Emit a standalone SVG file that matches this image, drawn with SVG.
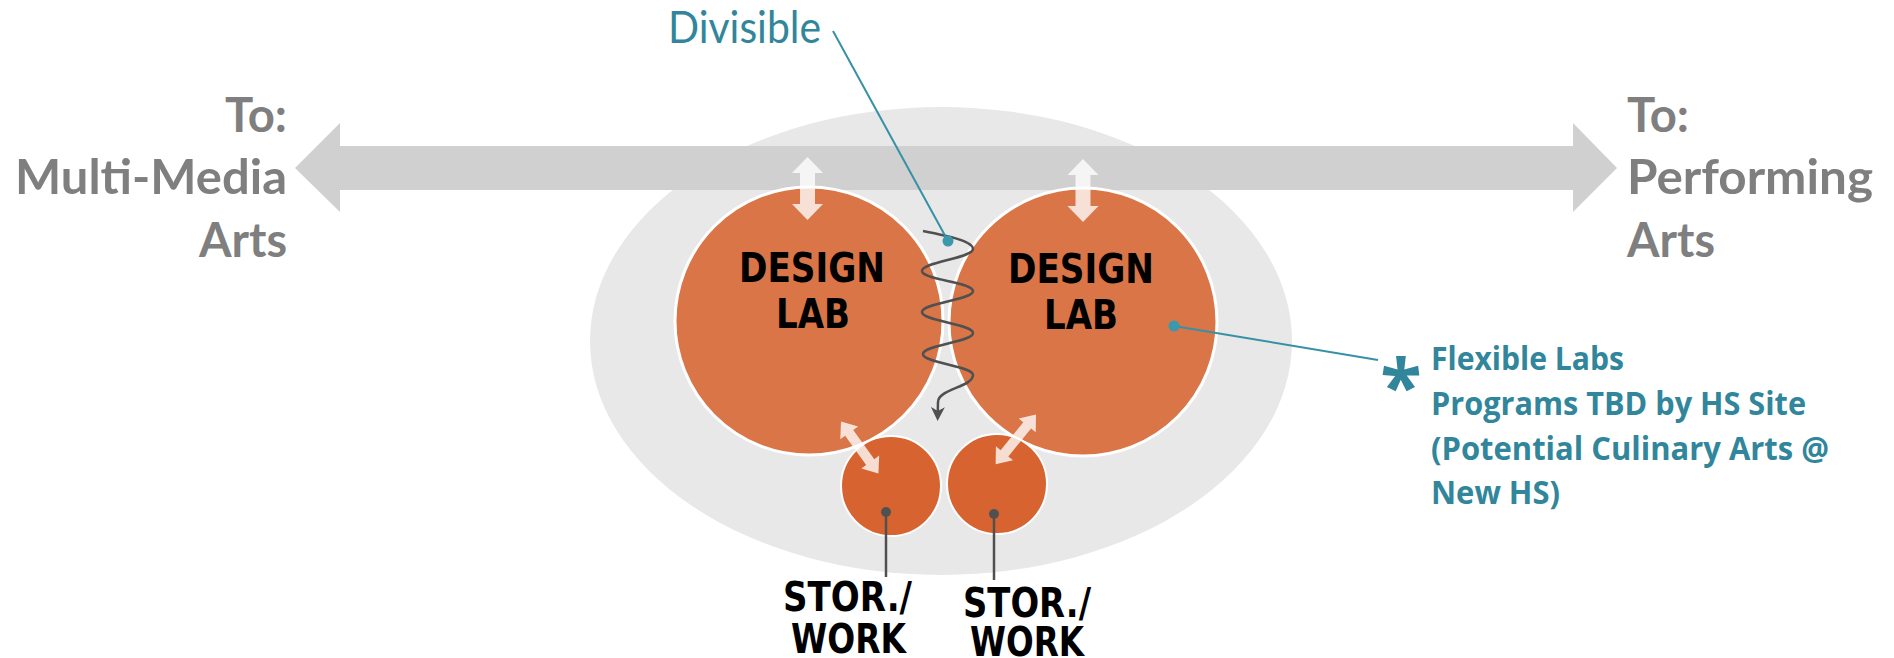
<svg xmlns="http://www.w3.org/2000/svg" width="1894" height="658" viewBox="0 0 1894 658">
  <style>
    .gray { font-family: "Lato", "Open Sans", sans-serif; font-weight: bold; font-size: 48px; fill: #7f7f7f; }
    .teal { font-family: "Open Sans", "Liberation Sans", sans-serif; font-weight: bold; font-size: 32px; fill: #31869b; }
    .star { font-family: "Open Sans", "Liberation Sans", sans-serif; font-weight: bold; font-size: 76px; fill: #31869b; }
    .div { font-family: "Lato", "Open Sans", sans-serif; font-size: 45px; fill: #31869b; }
    .lab { font-family: "DejaVu Sans Condensed", "DejaVu Sans", "Liberation Sans", sans-serif; font-weight: bold; font-size: 41px; fill: #000; text-anchor: middle; }
    .stor { font-family: "DejaVu Sans Condensed", "DejaVu Sans", "Liberation Sans", sans-serif; font-weight: bold; font-size: 40px; fill: #000; }
    .big { fill: #d97547; stroke: #ffffff; stroke-width: 3; }
    .small { fill: #d76430; stroke: #ffffff; stroke-width: 2; }
    .warrow { fill: #ffffff; fill-opacity: 0.78; }
    .leader { stroke: #3791a6; stroke-width: 2; fill: none; }
    .tdot { fill: #3b98ad; }
    .gline { stroke: #505050; stroke-width: 2.5; fill: none; }
    .gdot { fill: #505050; }
  </style>
  <defs>
    <marker id="ah" markerUnits="userSpaceOnUse" markerWidth="20" markerHeight="20" refX="4" refY="8" orient="auto">
      <path d="M0,1 L14,8 L0,15 L4,8 Z" fill="#505050"/>
    </marker>
    <path id="dbl-big" d="M0,0 L16,-15.5 L16,-7.5 L47,-7.5 L47,-15.5 L63,0 L47,15.5 L47,7.5 L16,7.5 L16,15.5 Z"/>
    <path id="dbl-small" d="M0,0 L14,-11 L14,-5 L50,-5 L50,-11 L64,0 L50,11 L50,5 L14,5 L14,11 Z"/>
  </defs>

  <g id="zone">
    <ellipse cx="941" cy="341" rx="351" ry="234" fill="#e8e8e8"/>
  </g>

  <g id="corridor">
    <polygon points="295,168 340,123 340,146 1573,146 1573,123 1617,168 1573,212 1573,190 340,190 340,212" fill="#d0d0d0"/>
  </g>

  <g id="label-multimedia">
    <text class="gray" x="287" y="132" text-anchor="end" textLength="62" lengthAdjust="spacingAndGlyphs">To:</text>
    <text class="gray" x="287" y="194" text-anchor="end" textLength="272" lengthAdjust="spacingAndGlyphs">Multi-Media</text>
    <text class="gray" x="287" y="257" text-anchor="end" textLength="88" lengthAdjust="spacingAndGlyphs">Arts</text>
  </g>

  <g id="label-performing">
    <text class="gray" x="1627" y="132" textLength="62" lengthAdjust="spacingAndGlyphs">To:</text>
    <text class="gray" x="1627" y="194" textLength="246" lengthAdjust="spacingAndGlyphs">Performing</text>
    <text class="gray" x="1627" y="257" textLength="88" lengthAdjust="spacingAndGlyphs">Arts</text>
  </g>

  <g id="lab-left">
    <circle class="big" cx="809" cy="321" r="134"/>
    <text class="lab" x="812" y="282" textLength="146" lengthAdjust="spacingAndGlyphs">DESIGN</text>
    <text class="lab" x="813" y="328" textLength="74" lengthAdjust="spacingAndGlyphs">LAB</text>
  </g>

  <g id="lab-right">
    <circle class="big" cx="1083" cy="322" r="134"/>
    <text class="lab" x="1081" y="283" textLength="146" lengthAdjust="spacingAndGlyphs">DESIGN</text>
    <text class="lab" x="1081" y="329" textLength="74" lengthAdjust="spacingAndGlyphs">LAB</text>
  </g>

  <g id="stor-left">
    <circle class="small" cx="891" cy="486" r="50"/>
    <text class="stor" x="783" y="611" textLength="129" lengthAdjust="spacingAndGlyphs">STOR./</text>
    <text class="stor" x="791" y="653" textLength="115" lengthAdjust="spacingAndGlyphs">WORK</text>
  </g>

  <g id="stor-right">
    <circle class="small" cx="997" cy="484" r="50"/>
    <text class="stor" x="963" y="617" textLength="128" lengthAdjust="spacingAndGlyphs">STOR./</text>
    <text class="stor" x="970" y="656" textLength="114" lengthAdjust="spacingAndGlyphs">WORK</text>
  </g>

  <g id="divisible-label">
    <text class="div" x="668" y="43" textLength="153" lengthAdjust="spacingAndGlyphs">Divisible</text>
  </g>

  <g id="flexible-note">
    <text class="star" x="1401" y="413" text-anchor="middle">*</text>
    <text class="teal" x="1431" y="370" textLength="193" lengthAdjust="spacingAndGlyphs">Flexible Labs</text>
    <text class="teal" x="1431" y="415" textLength="375" lengthAdjust="spacingAndGlyphs">Programs TBD by HS Site</text>
    <text class="teal" x="1431" y="460" textLength="398" lengthAdjust="spacingAndGlyphs">(Potential Culinary Arts @</text>
    <text class="teal" x="1431" y="504" textLength="129" lengthAdjust="spacingAndGlyphs">New HS)</text>
  </g>

  <g id="connectors">
    <use href="#dbl-big" class="warrow" transform="translate(807.5,157) rotate(90)"/>
    <use href="#dbl-big" class="warrow" transform="translate(1083,159) rotate(90)"/>
    <use href="#dbl-small" class="warrow" transform="translate(841,421.5) rotate(54.2)"/>
    <use href="#dbl-small" class="warrow" transform="translate(1036,414.5) rotate(129.1)"/>

    <path class="gline" marker-end="url(#ah)" d="M923,231 C948,236 973,241 973,249 C973,258 922,262 922,271 C922,280 973,282 973,291 C973,300 922,303 922,312 C922,321 973,324 973,333 C973,342 923,345 923,354 C923,363 973,366 973,375 C973,387 938,389 938,402 L937.8,411"/>

    <line class="leader" x1="833" y1="31" x2="948" y2="241"/>
    <circle class="tdot" cx="948" cy="241" r="5.5"/>
    <line class="leader" x1="1174" y1="326" x2="1378" y2="360"/>
    <circle class="tdot" cx="1174" cy="326" r="5.5"/>

    <line class="gline" stroke-width="2" x1="886" y1="512" x2="886" y2="577"/>
    <circle class="gdot" cx="886" cy="512" r="5"/>
    <line class="gline" stroke-width="2" x1="994" y1="514" x2="994" y2="580"/>
    <circle class="gdot" cx="994" cy="514" r="5"/>
  </g>
</svg>
